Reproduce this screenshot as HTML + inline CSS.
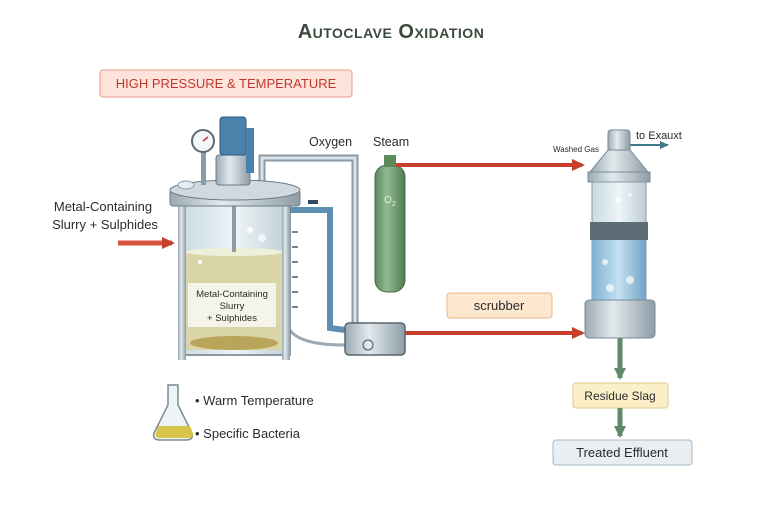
<!DOCTYPE html>
<html><head><meta charset="utf-8"><style>
html,body{margin:0;padding:0;background:#fff;}
svg{display:block;font-family:"Liberation Sans",sans-serif;}
</style></head><body>
<svg width="768" height="512" viewBox="0 0 768 512" xmlns="http://www.w3.org/2000/svg">
<defs>
<marker id="ar" markerWidth="14" markerHeight="14" refX="10" refY="7" orient="auto" markerUnits="userSpaceOnUse"><path d="M0,1 L13,7 L0,13 z" fill="#c8402c"/></marker>
<marker id="ag" markerWidth="14" markerHeight="12" refX="10" refY="6" orient="auto" markerUnits="userSpaceOnUse"><path d="M0,0 L12,6 L0,12 z" fill="#5e8a6a"/></marker>
<marker id="at" markerWidth="10" markerHeight="10" refX="8" refY="5" orient="auto" markerUnits="userSpaceOnUse"><path d="M0,1 L9,5 L0,9 z" fill="#3c7a86"/></marker>
<linearGradient id="steel" x1="0" x2="1"><stop offset="0" stop-color="#9aa9b3"/><stop offset="0.4" stop-color="#e3eaee"/><stop offset="1" stop-color="#8d9ca6"/></linearGradient>
<linearGradient id="glass" x1="0" x2="1"><stop offset="0" stop-color="#c9d9e2"/><stop offset="0.5" stop-color="#eef4f7"/><stop offset="1" stop-color="#bccdd8"/></linearGradient>
<linearGradient id="water" x1="0" x2="1"><stop offset="0" stop-color="#7fb2d4"/><stop offset="0.5" stop-color="#c4e0f0"/><stop offset="1" stop-color="#6fa3c8"/></linearGradient>
<linearGradient id="cyl" x1="0" x2="1"><stop offset="0" stop-color="#5b8a5e"/><stop offset="0.4" stop-color="#93bb90"/><stop offset="1" stop-color="#4f7a52"/></linearGradient>
</defs>

<text x="391" y="38" text-anchor="middle" font-size="20" font-weight="bold" fill="#3b4a3c" style="font-variant:small-caps" letter-spacing="0.5">Autoclave Oxidation</text>

<rect x="100" y="70" width="252" height="27" rx="3" fill="#fde3dc" stroke="#e39a8a"/>
<text x="226" y="88" text-anchor="middle" font-size="13" fill="#c0392b">HIGH PRESSURE &amp; TEMPERATURE</text>

<text x="103" y="211" text-anchor="middle" font-size="13" fill="#2b2b2b">Metal-Containing</text>
<text x="105" y="229" text-anchor="middle" font-size="13" fill="#2b2b2b">Slurry + Sulphides</text>
<line x1="118" y1="243" x2="172" y2="243" stroke="#d9533c" stroke-width="5" marker-end="url(#ar)"/>

<!-- pipes -->
<path d="M262,185 L262,158 L355,158 L355,328" fill="none" stroke="#8b9ba5" stroke-width="7"/>
<path d="M262,185 L262,158 L355,158 L355,328" fill="none" stroke="#dbe3e8" stroke-width="3"/>
<path d="M290,210 L330,210 L330,328 L345,330" fill="none" stroke="#5d8fb3" stroke-width="6"/>
<rect x="308" y="200" width="10" height="4" fill="#33485a"/>
<path d="M290,330 Q300,345 345,345" fill="none" stroke="#9aa9b3" stroke-width="3"/>

<!-- reactor -->
<rect x="180" y="205" width="110" height="150" fill="url(#glass)" stroke="#6c7c86" stroke-width="1.5"/>
<rect x="184" y="252" width="100" height="98" fill="#d9d5a8"/>
<ellipse cx="234" cy="252" rx="50" ry="4" fill="#eef0d8"/>
<ellipse cx="234" cy="343" rx="44" ry="7" fill="#b9a45a"/>
<rect x="178" y="200" width="8" height="160" fill="url(#steel)"/>
<rect x="282" y="200" width="8" height="160" fill="url(#steel)"/>
<rect x="232" y="200" width="4" height="52" fill="#8b9ba5"/>
<circle cx="250" cy="230" r="3" fill="#fff" opacity=".8"/><circle cx="262" cy="238" r="4" fill="#fff" opacity=".7"/><circle cx="200" cy="262" r="2" fill="#fff"/>
<rect x="188" y="283" width="88" height="44" fill="#f6f6ef" opacity="0.92"/>
<text x="232" y="297" text-anchor="middle" font-size="9.5" fill="#2b2b2b">Metal-Containing</text>
<text x="232" y="309" text-anchor="middle" font-size="9.5" fill="#2b2b2b">Slurry</text>
<text x="232" y="321" text-anchor="middle" font-size="9.5" fill="#2b2b2b">+ Sulphides</text>
<path d="M292,232 h6 M292,247 h6 M292,262 h6 M292,277 h6 M292,292 h6 M292,307 h6" stroke="#556" stroke-width="1.5"/>
<rect x="170" y="190" width="130" height="16" rx="3" fill="url(#steel)" stroke="#6c7c86"/>
<ellipse cx="235" cy="190" rx="65" ry="10" fill="#cfd9df" stroke="#6c7c86"/>
<ellipse cx="186" cy="185" rx="8" ry="4" fill="#e6ecef" stroke="#8b9ba5"/>
<!-- gauge -->
<rect x="201" y="150" width="5" height="35" fill="#8b9ba5"/>
<circle cx="203" cy="141" r="11" fill="#f4f6f7" stroke="#5a6a74" stroke-width="2"/>
<line x1="203" y1="141" x2="208" y2="137" stroke="#c0392b" stroke-width="1.5"/>
<!-- motor -->
<rect x="216" y="155" width="34" height="30" rx="3" fill="url(#steel)" stroke="#6c7c86"/>
<rect x="220" y="117" width="26" height="38" rx="3" fill="#4b82ab" stroke="#2f5878"/>
<rect x="246" y="128" width="8" height="45" fill="#4b82ab"/>

<!-- mixer box -->
<rect x="345" y="323" width="60" height="32" rx="4" fill="url(#steel)" stroke="#56656e" stroke-width="1.5"/>
<circle cx="368" cy="345" r="5" fill="none" stroke="#455"/>

<!-- cylinder -->
<rect x="375" y="165" width="30" height="127" rx="12" fill="url(#cyl)" stroke="#456b48"/>
<rect x="384" y="155" width="12" height="12" fill="#5b8a5e"/>
<text x="384" y="203" font-size="10" fill="#e2efe0">O</text><text x="392" y="206" font-size="7" fill="#e2efe0">2</text>
<text x="309" y="146" font-size="12.5" fill="#2b2b2b">Oxygen</text>
<text x="373" y="146" font-size="12.5" fill="#2b2b2b">Steam</text>

<line x1="396" y1="165" x2="582" y2="165" stroke="#c8402c" stroke-width="4" marker-end="url(#ar)"/>
<line x1="405" y1="333" x2="582" y2="333" stroke="#c8402c" stroke-width="4" marker-end="url(#ar)"/>

<rect x="447" y="293" width="105" height="25" rx="3" fill="#fde7cf" stroke="#e8b389"/>
<text x="499" y="310" text-anchor="middle" font-size="13" fill="#2b2b2b">scrubber</text>

<!-- scrubber column -->
<text x="553" y="152" font-size="8" fill="#2b2b2b">Washed Gas</text>
<text x="636" y="139" font-size="11" fill="#2b2b2b">to Exauxt</text>
<line x1="630" y1="145" x2="668" y2="145" stroke="#3c7a86" stroke-width="2" marker-end="url(#at)"/>
<rect x="608" y="130" width="22" height="22" rx="3" fill="url(#steel)" stroke="#7a8a94"/>
<path d="M608,150 L630,150 L648,172 L590,172 z" fill="url(#steel)" stroke="#7a8a94"/>
<rect x="588" y="172" width="62" height="10" fill="url(#steel)" stroke="#7a8a94"/>
<rect x="592" y="182" width="54" height="120" fill="url(#glass)" stroke="#8a9aa4"/>
<rect x="592" y="238" width="54" height="62" fill="url(#water)"/>
<rect x="590" y="222" width="58" height="18" fill="#5c6d76"/>
<circle cx="605" cy="262" r="3" fill="#fff" opacity=".7"/><circle cx="630" cy="280" r="4" fill="#fff" opacity=".7"/><circle cx="618" cy="200" r="3" fill="#fff" opacity=".7"/><circle cx="630" cy="195" r="2" fill="#fff" opacity=".7"/><circle cx="610" cy="288" r="4" fill="#fff" opacity=".7"/>
<rect x="585" y="300" width="70" height="38" rx="4" fill="url(#steel)" stroke="#7a8a94"/>

<line x1="620" y1="338" x2="620" y2="378" stroke="#5e8a6a" stroke-width="5" marker-end="url(#ag)"/>
<rect x="573" y="383" width="95" height="25" rx="3" fill="#fbefc8" stroke="#e3c98a"/>
<text x="620" y="400" text-anchor="middle" font-size="12" fill="#2b2b2b">Residue Slag</text>
<line x1="620" y1="408" x2="620" y2="436" stroke="#5e8a6a" stroke-width="5" marker-end="url(#ag)"/>
<rect x="553" y="440" width="139" height="25" rx="3" fill="#e8eef2" stroke="#a9b9c6"/>
<text x="622" y="457" text-anchor="middle" font-size="13" fill="#2b2b2b">Treated Effluent</text>

<!-- flask -->
<path d="M168,385 h10 v20 l14,28 q2,7 -6,7 h-26 q-8,0 -6,-7 l14,-28 z" fill="#eef3f5" stroke="#7a8a94" stroke-width="1.5"/>
<path d="M158,426 h32 l3,7 q1,5 -6,5 h-26 q-7,0 -5,-5 z" fill="#d8c64a"/>
<text x="195" y="405" font-size="13" fill="#2b2b2b">• Warm Temperature</text>
<text x="195" y="438" font-size="13" fill="#2b2b2b">• Specific Bacteria</text>
</svg>
</body></html>
